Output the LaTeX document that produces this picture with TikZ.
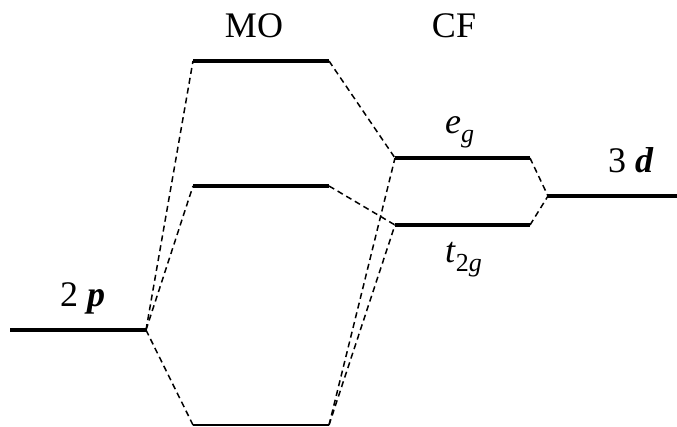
\documentclass[tikz,border=0pt]{standalone}
\usepackage{fontspec}
\setmainfont{Liberation Serif}
\tikzset{
  level/.style={line width=3.4pt},
  thinlevel/.style={line width=1.4pt},
  link/.style={line width=1.5pt, dash pattern=on 6pt off 4pt},
  lbl/.style={inner sep=0pt, anchor=base, font=\fontsize{36}{40}\selectfont},
  lblw/.style={inner sep=0pt, anchor=base west, font=\fontsize{36}{40}\selectfont}
}
\newcommand{\sbs}[1]{\raisebox{-0.26em}{\fontsize{26}{28}\selectfont #1}}
\begin{document}
\begin{tikzpicture}[x=1pt,y=-1pt]
\useasboundingbox (0,0) rectangle (677,426);
% level end points
\coordinate (pL) at (10,330);   \coordinate (pR) at (146,330);
\coordinate (aL) at (193,61);   \coordinate (aR) at (329,61);
\coordinate (bL) at (193,186);  \coordinate (bR) at (329,186);
\coordinate (cL) at (193,425);  \coordinate (cR) at (329,425);
\coordinate (eL) at (395,158);  \coordinate (eR) at (530,158);
\coordinate (tL) at (395,225);  \coordinate (tR) at (530,225);
\coordinate (dL) at (548,196);  \coordinate (dR) at (677,196);
% levels
\draw[level] (pL) -- (pR);
\draw[level] (aL) -- (aR);
\draw[level] (bL) -- (bR);
\draw[thinlevel] (cL) -- (cR);
\draw[level] (eL) -- (eR);
\draw[level] (tL) -- (tR);
\draw[level] (dL) -- (dR);
% connectors
\draw[link] (pR) -- (aL);
\draw[link] (pR) -- (bL);
\draw[link] (pR) -- (cL);
\draw[link] (aR) -- (eL);
\draw[link] (bR) -- (tL);
\draw[link] (cR) -- (eL);
\draw[link] (cR) -- (tL);
\draw[link] (eR) -- (dL);
\draw[link] (tR) -- (dL);
% labels
\node[lbl] (mo) at (254,37) {MO};
\node[lbl] (cf) at (454,37) {CF};
\node[lblw] (p2) at (60,306) {2 \textbf{\textit{p}}};
\node[lblw] (d3) at (608,172) {3 \textbf{\textit{d}}};
\node[lblw] (eg) at (445,133) {\textit{e}\sbs{\textit{g}}};
\node[lblw] (tg) at (445,262) {\textit{t}\sbs{2\textit{g}}};
\end{tikzpicture}
\end{document}
